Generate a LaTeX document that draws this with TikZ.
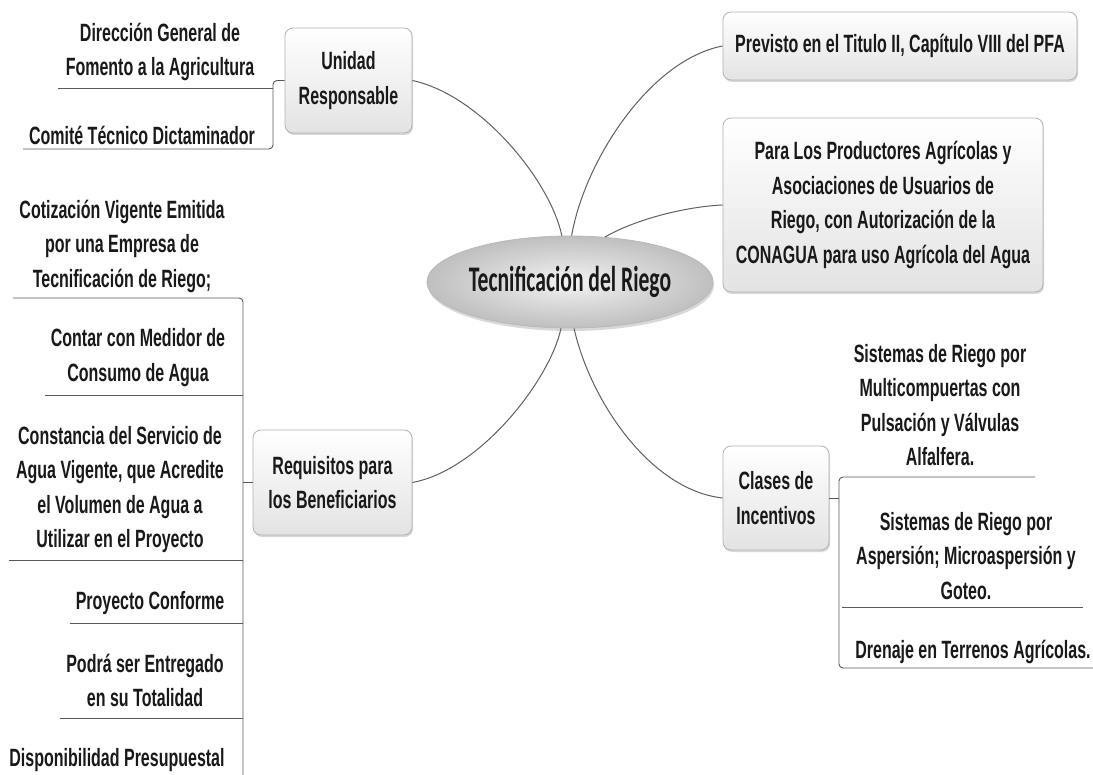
\documentclass[tikz,border=0pt]{standalone}
\usepackage{fontspec}
\newfontfamily\nf[FakeStretch=0.64]{Liberation Sans}
\newfontfamily\cf[FakeStretch=0.6]{Carlito}
\newcommand\lblfont{\nf\bfseries\fontsize{25}{34.5}\selectfont}
\newcommand\ctrfont{\cf\bfseries\fontsize{36}{40}\selectfont}
\usetikzlibrary{shadows,shapes.geometric}
\begin{document}
\begin{tikzpicture}[x=1pt,y=-1pt,
 box/.style={draw=gray!60, line width=0.8pt, rounded corners=8pt, top color=white, bottom color=gray!22,
   drop shadow={shadow xshift=1pt,shadow yshift=-2pt,opacity=0.3,fill=gray},
   inner sep=0pt, align=center, font=\lblfont, text=black!90},
 lbl/.style={align=center, font=\lblfont, text=black!90, inner sep=0pt},
 conn/.style={draw=gray!75!black, line width=1pt},
 brk/.style={draw=gray!70!black, line width=0.9pt, rounded corners=4pt},
]
\fill[white] (0,0) rectangle (1093,775);
\useasboundingbox (0,0) rectangle (1093,775);

% central ellipse
\node[ellipse, minimum width=235pt, minimum height=92pt, inner sep=0pt, draw=gray!55, line width=0.8pt,
  inner color=gray!10, outer color=gray!50,
  drop shadow={shadow xshift=1pt,shadow yshift=-3pt,opacity=0.3,fill=gray},
  font=\ctrfont, text=black!90] (C) at (570,282) {Tecnificación del Riego};

% main boxes
\node[box, minimum width=127pt, minimum height=105pt] (U) at (348.5,80.5) {Unidad\\Responsable};
\node[box, minimum width=159pt, minimum height=105pt] (R) at (332.5,482.5) {Requisitos para\\los Beneficiarios};
\node[box, minimum width=354pt, minimum height=68pt] (P) at (900,46) {Previsto en el Titulo II, Capítulo VIII del PFA};
\node[box, minimum width=320pt, minimum height=174pt] (A) at (883,205) {Para Los Productores Agrícolas y\\Asociaciones de Usuarios de\\Riego, con Autorización de la\\CONAGUA para uso Agrícola del Agua};
\node[box, minimum width=106pt, minimum height=104pt] (K) at (776,498) {Clases de\\Incentivos};

% curved connectors
\draw[conn] (U.east) .. controls (480,95) and (550,180) .. (C.100);
\draw[conn] (P.west) .. controls (650,60) and (585,160) .. (C.88);
\draw[conn] (A.west) .. controls (680,207) and (630,222) .. (C.52);
\draw[conn] (R.east) .. controls (480,470) and (550,380) .. (C.259);
\draw[conn] (K.west) .. controls (650,490) and (590,400) .. (C.275);

% Unidad Responsable leaves
\node[lbl] (u1) at (160,52) {Dirección General de\\Fomento a la Agricultura};
\node[lbl] (u2) at (142,135) {Comité Técnico Dictaminador};
\coordinate (ub) at (273,80.5);
\draw[brk] (U.west) -- (ub) -- (273,149) -- (23,149);
\draw[brk] (58,88) -- (273,88);

% Requisitos leaves
\node[lbl] (r1) at (122,246) {Cotización Vigente Emitida\\por una Empresa de\\Tecnificación de Riego;};
\node[lbl] (r2) at (138,357.5) {Contar con Medidor de\\Consumo de Agua};
\node[lbl] (r3) at (120,489.5) {Constancia del Servicio de\\Agua Vigente, que Acredite\\el Volumen de Agua a\\Utilizar en el Proyecto};
\node[lbl] (r4) at (150,603) {Proyecto Conforme};
\node[lbl] (r5) at (145,680.5) {Podrá ser Entregado\\en su Totalidad};
\node[lbl] (r6) at (117,760) {Disponibilidad Presupuestal};
\coordinate (rb) at (243,482.5);
\draw[brk] (R.west) -- (rb);
\draw[brk] (13,298) -- (243,298) -- (243,775);
\draw[brk] (45,395) -- (243,395);
\draw[brk] (9,560) -- (243,560);
\draw[brk] (70,623) -- (243,623);
\draw[brk] (60,718) -- (243,718);

% Clases de Incentivos leaves
\node[lbl] (k1) at (940,405) {Sistemas de Riego por\\Multicompuertas con\\Pulsación y Válvulas\\Alfalfera.};
\node[lbl] (k2) at (966,556) {Sistemas de Riego por\\Aspersión; Microaspersión y\\Goteo.};
\node[lbl] (k3) at (973,652) {Drenaje en Terrenos Agrícolas.};
\coordinate (kb) at (839,498);
\draw[brk] (K.east) -- (kb);
\draw[brk] (1035,477) -- (839,477) -- (839,668) -- (1093,668);
\draw[brk] (842,607) -- (1083,607);
\end{tikzpicture}
\end{document}
